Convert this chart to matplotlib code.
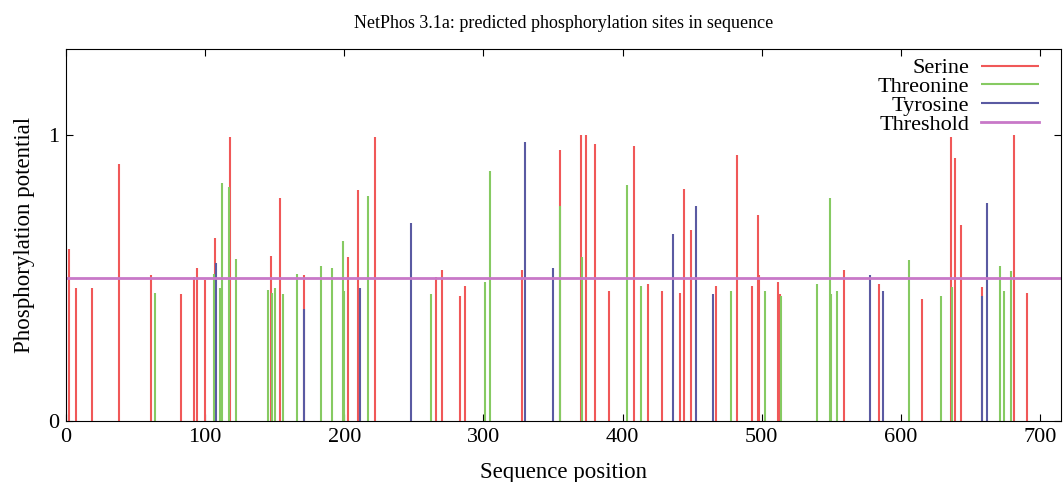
import matplotlib
matplotlib.use("Agg")
import matplotlib.pyplot as plt

plt.rcParams['font.family'] = ['Liberation Serif', 'DejaVu Serif']

# Serine sites
ser_pos = [2, 7, 19, 38, 61, 83, 92, 94, 100, 107, 118, 147, 154, 171, 203, 210,
           222, 266, 270, 283, 287, 328, 355, 370, 374, 380, 390, 408, 418, 428,
           441, 444, 449, 467, 482, 493, 497, 498, 512, 513, 559, 584, 615, 636,
           639, 643, 658, 681, 691]
ser_val = [0.603, 0.467, 0.467, 0.900, 0.510, 0.443, 0.505, 0.537, 0.495, 0.642,
           0.993, 0.579, 0.781, 0.510, 0.574, 0.807, 0.993, 0.505, 0.529, 0.437,
           0.474, 0.529, 0.949, 0.999, 0.999, 0.967, 0.454, 0.961, 0.480, 0.454,
           0.449, 0.813, 0.667, 0.474, 0.930, 0.474, 0.721, 0.510, 0.486, 0.443,
           0.529, 0.480, 0.427, 0.993, 0.920, 0.687, 0.468, 1.000, 0.449]

# Threonine sites
thr_pos = [64, 106, 111, 112, 117, 122, 145, 148, 150, 156, 166, 183, 191, 199,
           200, 217, 262, 301, 305, 355, 371, 403, 413, 478, 502, 514, 540, 549,
           550, 554, 606, 629, 637, 671, 674, 679]
thr_val = [0.449, 0.516, 0.467, 0.832, 0.818, 0.567, 0.460, 0.449, 0.467, 0.443,
           0.516, 0.542, 0.537, 0.630, 0.454, 0.788, 0.443, 0.486, 0.874, 0.753,
           0.574, 0.824, 0.474, 0.454, 0.454, 0.437, 0.480, 0.781, 0.443, 0.454,
           0.563, 0.437, 0.468, 0.542, 0.456, 0.524]

# Tyrosine sites
tyr_pos = [108, 171, 211, 248, 330, 350, 436, 453, 465, 578, 587, 658, 662]
tyr_val = [0.553, 0.391, 0.467, 0.691, 0.974, 0.537, 0.654, 0.753, 0.443, 0.510,
           0.454, 0.437, 0.761]

threshold = 0.5
seq_len = 715

fig = plt.figure(figsize=(10.63, 4.82), dpi=100)
ax = fig.add_axes([0.0621, 0.126, 0.9359, 0.772])

ax.vlines(ser_pos, 0, ser_val, colors='#f05858', lw=1.5, label='Serine')
ax.vlines(thr_pos, 0, thr_val, colors='#86ca62', lw=1.5, label='Threonine')
ax.vlines(tyr_pos, 0, tyr_val, colors='#5a5aa2', lw=1.5, label='Tyrosine')
ax.plot([0, seq_len], [threshold, threshold], color='#c878c8', lw=2, label='Threshold')

ax.set_xlim(0, seq_len)
ax.set_ylim(0, 1.3)
ax.set_xticks(range(0, 701, 100))
ax.set_yticks([0, 1])
ax.tick_params(direction='in', top=True, right=True, length=5, labelsize=16, pad=5)

ax.set_xlabel('Sequence position', fontsize=16.5, labelpad=11)
ax.set_ylabel('Phosphorylation potential', fontsize=16.5, labelpad=9)
ax.set_title('NetPhos 3.1a: predicted phosphorylation sites in sequence',
             fontsize=13, pad=15)

# legend: text first, sample line after, pinned to the upper right corner
leg = ax.legend(loc='upper right', bbox_to_anchor=(0.978, 0.977),
                markerfirst=False, frameon=False, fontsize=16,
                handlelength=2.6, handletextpad=0.54, labelspacing=-0.08,
                borderaxespad=0, borderpad=0)

fig.savefig('out.png', dpi=100)
